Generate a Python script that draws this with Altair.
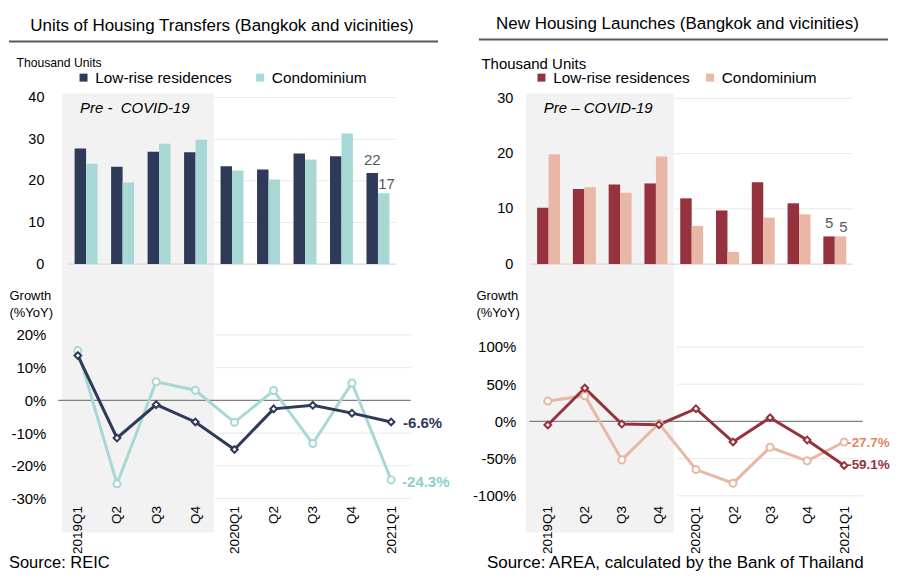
import altair as alt
import pandas as pd

# ---------------- data ----------------
quarters = ["2019Q1", "2019Q2", "2019Q3", "2019Q4", "2020Q1", "2020Q2", "2020Q3", "2020Q4", "2021Q1"]
tick_labels = ["2019Q1", "Q2", "Q3", "Q4", "2020Q1", "Q2", "Q3", "Q4", "2021Q1"]
pre_covid = ["2019Q1", "2019Q2", "2019Q3", "2019Q4"]
series = ["Low-rise residences", "Condominium"]

transfer_lowrise = [27.8, 23.4, 27.0, 26.9, 23.5, 22.7, 26.6, 25.9, 21.9]
transfer_condo = [24.1, 19.6, 28.9, 29.9, 22.5, 20.3, 25.1, 31.4, 17.0]
transfer_lowrise_yoy = [13.7, -11.5, -1.3, -6.6, -15.0, -2.6, -1.5, -3.9, -6.6]
transfer_condo_yoy = [15.2, -25.5, 5.7, 3.1, -6.7, 3.0, -13.2, 5.3, -24.3]

launch_lowrise = [10.2, 13.6, 14.4, 14.6, 11.9, 9.7, 14.8, 11.0, 5.0]
launch_condo = [19.9, 13.9, 12.9, 19.5, 6.9, 2.2, 8.4, 9.0, 5.0]
launch_lowrise_yoy = [-4.8, 44.8, -3.5, -4.4, 17.0, -27.6, 5.0, -25.0, -59.1]
launch_condo_yoy = [27.3, 34.5, -51.7, -2.7, -64.7, -83.0, -34.8, -53.0, -27.7]

transfer_ticks = [0, 10, 20, 30, 40]
transfer_yoy_ticks = [-30, -20, -10, 0, 10, 20]
launch_ticks = [0, 10, 20, 30]
launch_yoy_ticks = [-100, -50, 0, 50, 100]

FONT = "Liberation Sans"
N = len(quarters)
idx = list(range(N))
shade_end = len(pre_covid) - 0.5
x_end = N - 0.5
last = N - 1
label_expr = "[" + ",".join("'%s'" % t for t in tick_labels) + "][datum.value]"
one = pd.DataFrame({"k": [0]})


def long_df(low, condo):
    return pd.DataFrame({
        "i": idx * 2,
        "q": quarters * 2,
        "series": [series[0]] * N + [series[1]] * N,
        "v": list(low) + list(condo),
    })


def top_panel(low, condo, colors, xdom, ydom, yticks, width, height, title, title_dx,
              unit_size, unit_xy, legend_xy, col_pad, pre_text, pre_dx, underline, lab_pad):
    df = long_df(low, condo)
    xs = alt.Scale(domain=xdom, nice=False, zero=False)
    ys = alt.Scale(domain=ydom, nice=False, zero=False)
    yaxis = alt.Axis(values=yticks, title="Thousand Units", titleAngle=0, titleAlign="left",
                     titleBaseline="middle", titleX=unit_xy[0], titleY=unit_xy[1],
                     titleFontSize=unit_size, titleFontWeight="normal", titleColor="#000000",
                     labelFontSize=14.5, labelColor="#000000", labelPadding=lab_pad,
                     domain=False, ticks=False, grid=False)

    shade = alt.Chart(pd.DataFrame({"s": [xdom[0]], "e": [shade_end]})).mark_rect(
        color="#F2F2F2").encode(
        x=alt.X("s:Q", scale=xs, axis=None), x2="e:Q",
        y=alt.value(0), y2=alt.value(440))

    grid = alt.Chart(pd.DataFrame({"g": [t for t in yticks if t != 0]})).transform_calculate(
        a=str(shade_end), b=str(x_end)).mark_rule(color="#E9E9E9", strokeWidth=1).encode(
        x=alt.X("a:Q", scale=xs, axis=None), x2="b:Q",
        y=alt.Y("g:Q", scale=ys, axis=yaxis))

    base = alt.Chart(pd.DataFrame({"g": [0]})).transform_calculate(
        a="-0.5", b=str(x_end)).mark_rule(color="#D9D9D9", strokeWidth=1.2).encode(
        x=alt.X("a:Q", scale=xs, axis=None), x2="b:Q",
        y=alt.Y("g:Q", scale=ys, axis=yaxis))

    color = alt.Color("series:N", scale=alt.Scale(domain=series, range=colors),
                      legend=alt.Legend(orient="none", legendX=legend_xy[0], legendY=legend_xy[1],
                                        direction="horizontal", title=None, symbolType="square",
                                        symbolSize=64, symbolStrokeWidth=0, labelFontSize=15.4,
                                        labelColor="#000000", labelOffset=4, columnPadding=col_pad,
                                        padding=0))

    b1 = alt.Chart(df).transform_filter(alt.datum.series == series[0]).mark_bar(
        width=11.5, xOffset=-5.75).encode(
        x=alt.X("i:Q", scale=xs, axis=None), y=alt.Y("v:Q", scale=ys, axis=yaxis), color=color)
    b2 = alt.Chart(df).transform_filter(alt.datum.series == series[1]).mark_bar(
        width=11.5, xOffset=5.75).encode(
        x=alt.X("i:Q", scale=xs, axis=None), y=alt.Y("v:Q", scale=ys, axis=yaxis), color=color)

    t1 = alt.Chart(df).transform_filter(
        (alt.datum.series == series[0]) & (alt.datum.i == last)).mark_text(
        dx=-5.75, dy=-13, fontSize=15, color="#595959").encode(
        x=alt.X("i:Q", scale=xs, axis=None), y=alt.Y("v:Q", scale=ys, axis=yaxis),
        text=alt.Text("v:Q", format=".0f"))
    t2 = alt.Chart(df).transform_filter(
        (alt.datum.series == series[1]) & (alt.datum.i == last)).mark_text(
        dx=8.5, dy=-9, fontSize=15, color="#595959").encode(
        x=alt.X("i:Q", scale=xs, axis=None), y=alt.Y("v:Q", scale=ys, axis=yaxis),
        text=alt.Text("v:Q", format=".0f"))

    pre = alt.Chart(pd.DataFrame({"x": [(len(pre_covid) - 1) / 2], "t": [pre_text]})).mark_text(
        fontSize=15, fontStyle="italic", color="#000000", dx=pre_dx).encode(
        x=alt.X("x:Q", scale=xs, axis=None), y=alt.value(15), text="t:N")

    line = alt.Chart(one).mark_rule(color="#595959", strokeWidth=2).encode(
        x=alt.value(underline[0]), x2=alt.value(underline[1]), y=alt.value(underline[2]))

    return alt.layer(shade, grid, base, b1, b2, t1, t2, pre, line).properties(
        width=width, height=height,
        title=alt.TitleParams(title, fontSize=17, fontWeight="normal", color="#000000",
                              anchor="middle", frame="group", dx=title_dx, offset=6))


def bottom_panel(low, condo, colors, label_colors, xdom, ydom, yticks, width, height,
                 growth_x, label_dx, label_dy, label_size, source_text, source_xy, source_size,
                 lab_pad):
    df = long_df(low, condo)
    xs = alt.Scale(domain=xdom, nice=False, zero=False)
    ys = alt.Scale(domain=ydom, nice=False, zero=False)
    xaxis = alt.Axis(values=idx, labelExpr=label_expr, labelAngle=270, labelFontSize=13.5,
                     labelColor="#000000", labelPadding=5, labelFlush=False, labelOverlap=False,
                     labelBound=False, domain=False, ticks=False, grid=False, title=None)
    yaxis = alt.Axis(values=yticks, labelExpr="datum.value + '%'", title=["Growth", "(%YoY)"],
                     titleAngle=0, titleAlign="left", titleBaseline="middle", titleX=growth_x,
                     titleY=10, titleLineHeight=17, titleFontSize=13, titleFontWeight="normal",
                     titleColor="#000000", labelFontSize=15, labelColor="#000000",
                     labelPadding=lab_pad, domain=False, ticks=False, grid=False)
    X = alt.X("i:Q", scale=xs, axis=xaxis)
    Y = alt.Y("v:Q", scale=ys, axis=yaxis)

    grid = alt.Chart(pd.DataFrame({"g": [t for t in yticks if t != 0]})).transform_calculate(
        a=str(shade_end), b=str(x_end)).mark_rule(color="#E9E9E9", strokeWidth=1).encode(
        x=alt.X("a:Q", scale=xs, axis=xaxis), x2="b:Q",
        y=alt.Y("g:Q", scale=ys, axis=yaxis))
    zero = alt.Chart(pd.DataFrame({"g": [0]})).transform_calculate(
        a="-0.5", b=str(x_end)).mark_rule(color="#7F7F7F", strokeWidth=1.2).encode(
        x=alt.X("a:Q", scale=xs, axis=xaxis), x2="b:Q",
        y=alt.Y("g:Q", scale=ys, axis=yaxis))

    layers = [grid, zero]
    shapes = ["diamond", "circle"]
    sizes = [45, 50]
    for k in (1, 0):
        layers.append(alt.Chart(df).transform_filter(alt.datum.series == series[k]).mark_line(
            color=colors[k], strokeWidth=3).encode(x=X, y=Y))
    for k in (1, 0):
        layers.append(alt.Chart(df).transform_filter(alt.datum.series == series[k]).mark_point(
            shape=shapes[k], filled=True, fill="#FFFFFF", stroke=colors[k], strokeWidth=2,
            size=sizes[k], opacity=1).encode(x=X, y=Y))
    for k in (0, 1):
        layers.append(alt.Chart(df).transform_filter(
            (alt.datum.series == series[k]) & (alt.datum.i == last)).transform_calculate(
            lbl="replace(format(datum.v, '.1f'), '\u2212', '-') + '%'").mark_text(
            align="left", baseline="middle", dx=label_dx[k], dy=label_dy[k], fontSize=label_size,
            fontWeight="bold", color=label_colors[k]).encode(x=X, y=Y, text="lbl:N"))
    layers.append(alt.Chart(pd.DataFrame({"t": [source_text]})).mark_text(
        align="left", baseline="middle", fontSize=source_size, color="#000000").encode(
        x=alt.value(source_xy[0]), y=alt.value(source_xy[1]), text="t:N"))
    return alt.layer(*layers).properties(width=width, height=height)


tl = top_panel(transfer_lowrise, transfer_condo, ["#2E3A58", "#A8D8D6"],
               [-0.664, 8.771], [-5.27, 41], transfer_ticks, 355, 193,
               "Units of Housing Transfers (Bangkok and vicinities)", -12,
               12.2, (-41, -31), (19, -24), 20, "Pre -\u00a0 COVID-19", -6,
               (-48, 382, -52), 13)
tr = top_panel(launch_lowrise, launch_condo, ["#96323E", "#E8B7A6"],
               [-0.636, 8.65], [-3.98, 30.9], launch_ticks, 343, 193,
               "New Housing Launches (Bangkok and vicinities)", -14.5,
               15, (-40, -30), (13, -24), 12, "Pre \u2013 COVID-19", -4,
               (-42, 368, -54), 8)
bl = bottom_panel(transfer_lowrise_yoy, transfer_condo_yoy, ["#2E3A58", "#A8D8D6"],
                  ["#2E3A58", "#8FCFCB"], [-0.535, 8.51], [-30.6, 34.94], transfer_yoy_ticks,
                  355, 215, -48, [12, 11], [1, 2], 15, "Source: REIC", (-48, 278), 16.5, 11)
br = bottom_panel(launch_lowrise_yoy, launch_condo_yoy, ["#96323E", "#E8B7A6"],
                  ["#96323E", "#E0876A"], [-0.727, 8.51], [-106.3, 181.9], launch_yoy_ticks,
                  343, 215, -45, [3, 3], [0, 1], 13.5,
                  "Source: AREA, calculated by the Bank of Thailand", (-34, 278), 17, 5)

chart = alt.concat(tl, tr, bl, br, columns=2, spacing={"row": 0, "column": 110},
                   bounds="flush").resolve_scale(
    color="independent").resolve_legend(color="independent").properties(
    padding={"left": 0, "top": 6, "right": 0, "bottom": 0}
).configure(font=FONT).configure_view(stroke=None)

chart.save("out.html", embed_options={"renderer": "svg", "actions": False})
